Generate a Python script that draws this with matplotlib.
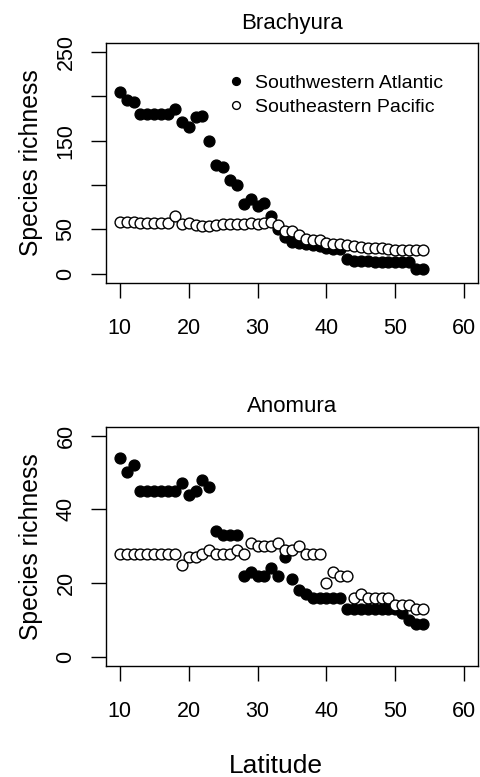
import matplotlib
matplotlib.use("Agg")
import matplotlib.pyplot as plt

plt.rcParams['font.family'] = ['Liberation Sans', 'DejaVu Sans']

latitude = [10, 11, 12, 13, 14, 15, 16, 17, 18, 19, 20, 21, 22, 23, 24,
            25, 26, 27, 28, 29, 30, 31, 32, 33, 34, 35, 36, 37, 38, 39,
            40, 41, 42, 43, 44, 45, 46, 47, 48, 49, 50, 51, 52, 53, 54]

brachyura_atlantic = [205, 196, 194, 180, 180, 180, 180, 180, 186, 171, 166, 177, 178, 150, 123,
                      121, 106, 100, 79, 84, 76, 80, 65, 50, 41, 36, 35, 34, 32, 31,
                      29, 28, 28, 17, 15, 14, 14, 13, 13, 13, 13, 13, 13, 6, 6]
brachyura_pacific = [58, 58, 59, 57, 57, 57, 57, 57, 65, 56, 57, 55, 54, 54, 55,
                     56, 56, 56, 56, 57, 56, 57, 58, 55, 48, 48, 44, 39, 38, 38,
                     35, 34, 34, 33, 31, 30, 29, 29, 29, 28, 27, 27, 27, 27, 27]

anomura_atlantic = [54, 50, 52, 45, 45, 45, 45, 45, 45, 47, 44, 45, 48, 46, 34,
                    33, 33, 33, 22, 23, 22, 22, 24, 22, 27, 21, 18, 17, 16, 16,
                    16, 16, 16, 13, 13, 13, 13, 13, 13, 13, 13, 12, 10, 9, 9]
anomura_pacific = [28, 28, 28, 28, 28, 28, 28, 28, 28, 25, 27, 27, 28, 29, 28,
                   28, 28, 29, 28, 31, 30, 30, 30, 31, 29, 29, 30, 28, 28, 28,
                   20, 23, 22, 22, 16, 17, 16, 16, 16, 16, 14, 14, 14, 13, 13]

x_ticks = [10, 20, 30, 40, 50, 60]
brachyura_yticks = [0, 50, 100, 150, 200, 250]
brachyura_yticklabels = ["0", "50", "", "150", "", "250"]
anomura_yticks = [0, 20, 40, 60]
anomura_yticklabels = ["0", "20", "40", "60"]
series_labels = ["Southwestern Atlantic", "Southeastern Pacific"]

W, H = 480, 777
fig = plt.figure(figsize=(W / 100, H / 100), dpi=100)

def px_axes(left, top, right, bottom):
    return fig.add_axes([left / W, 1 - bottom / H, (right - left) / W, (bottom - top) / H])

ax1 = px_axes(106, 43.3, 478, 282.7)
ax2 = px_axes(106, 426.7, 478, 665.7)

ms = 7.8
mew = 1.0

def style(ax, yticks, yticklabels, ylim, title):
    ax.set_xlim(8, 62)
    ax.set_ylim(*ylim)
    ax.set_xticks(x_ticks)
    ax.set_yticks(yticks)
    ax.set_yticklabels(yticklabels)
    ax.tick_params(axis='both', direction='out', length=10.8, width=1.0, color='black')
    ax.tick_params(axis='x', labelsize=15.5, pad=14.5)
    ax.tick_params(axis='y', labelsize=15.5, pad=10.5, labelrotation=90)
    for lab in ax.get_yticklabels():
        lab.set_va('center')
    for s in ax.spines.values():
        s.set_linewidth(1.0)
    ax.set_title(title, fontsize=16, pad=10.6)
    ax.set_ylabel("Species richness", fontsize=17.8)
    ax.yaxis.set_label_coords(-0.169, 0.5)

h1 = ax1.plot(latitude, brachyura_atlantic, 'o', color='black', ms=ms, mew=mew,
              mec='black', label=series_labels[0], zorder=3)[0]
h2 = ax1.plot(latitude, brachyura_pacific, 'o', mfc='white', mec='black', ms=ms, mew=mew,
              label=series_labels[1], zorder=4)[0]
style(ax1, brachyura_yticks, brachyura_yticklabels, (-10, 260), "Brachyura")

ax2.plot(latitude, anomura_atlantic, 'o', color='black', ms=ms, mew=mew, mec='black', zorder=3)
ax2.plot(latitude, anomura_pacific, 'o', mfc='white', mec='black', ms=ms, mew=mew, zorder=4)
style(ax2, anomura_yticks, anomura_yticklabels, (-2.4, 62.4), "Anomura")

leg = ax1.legend(handles=[h1, h2], loc='upper left', bbox_to_anchor=(0.3226, 0.869),
                 frameon=False, fontsize=14, markerscale=0.72, numpoints=1,
                 handlelength=1.0, handletextpad=0.5, labelspacing=0.3,
                 borderpad=0.0, borderaxespad=0.0)

fig.text(275.5 / W, 1 - 773 / H, "Latitude", fontsize=19, ha='center', va='baseline')

fig.savefig("out.png", dpi=100)
